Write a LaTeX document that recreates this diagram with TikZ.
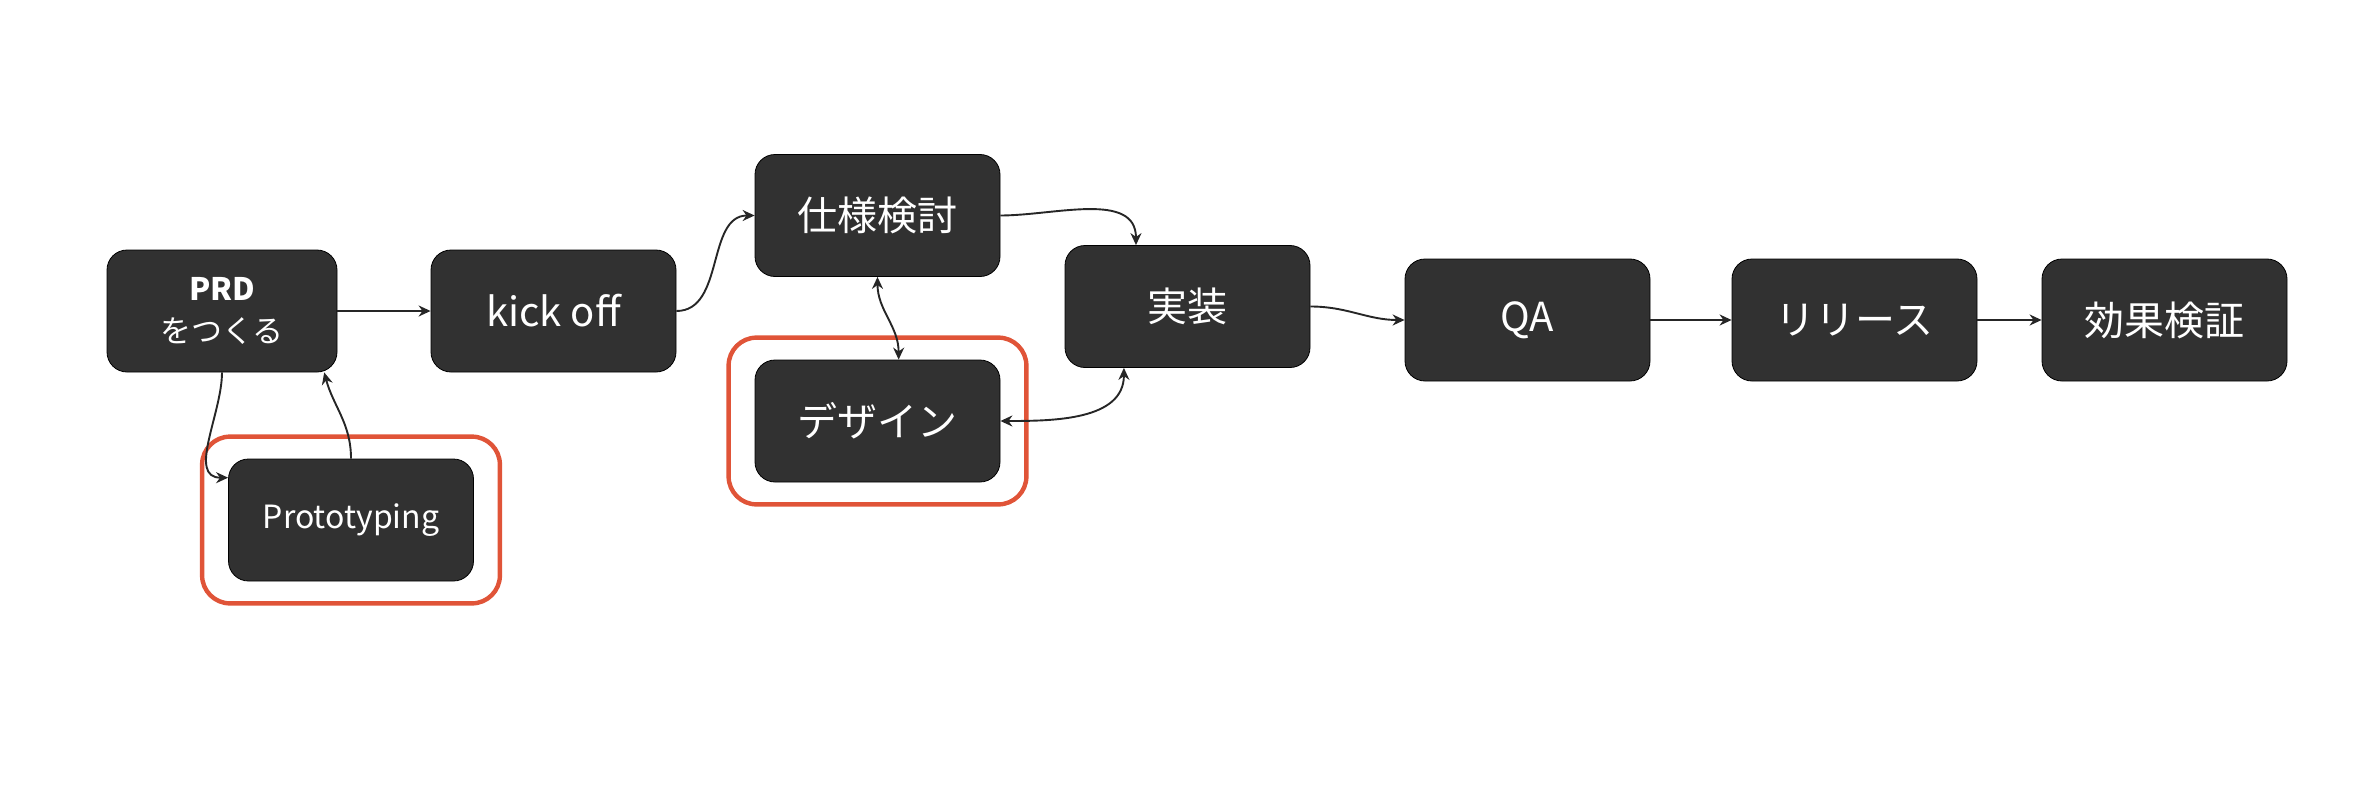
\documentclass[tikz,border=0pt]{standalone}
\usepackage{fontspec}
\setmainfont{Noto Sans CJK JP}
\usetikzlibrary{arrows.meta,fit}
\definecolor{boxgray}{HTML}{313131}
\definecolor{redframe}{HTML}{E05438}

\begin{document}
\begin{tikzpicture}[x=0.5pt,y=0.5pt, >={Stealth[length=6pt,width=5.5pt]},
	task/.style={rectangle, rounded corners=10pt, fill=boxgray, draw=black, line width=0.4pt,
	text=white, minimum width=122.5pt, minimum height=61pt, align=center, font=\fontsize{20}{24}\selectfont},
	hilite/.style={rectangle, draw=redframe, line width=2.2pt, rounded corners=14pt, inner xsep=13pt, inner ysep=11pt},
	arr/.style={line width=0.95pt, draw=black!85}]
\useasboundingbox (0,0) rectangle (2372,784);
\node [task, minimum width=115pt, font=\fontsize{15.5}{21}\selectfont] (prd) at (222,473) {\textbf{PRD}\\をつくる};
\node [task] (kick) at (553.5,473) {kick off};
\node [task] (spec) at (877.5,568.5) {仕様検討};
\node [task] (des) at (877.5,363) {デザイン};
\node [task, font=\fontsize{16}{20}\selectfont] (proto) at (351,264) {Prototyping};
\node [task] (impl) at (1187.5,477.5) {実装};
\node [task] (qa) at (1527.5,464) {QA};
\node [task] (rel) at (1854.5,464) {リリース};
\node [task] (eff) at (2164.5,464) {効果検証};
% red frames
\node [hilite, fit=(proto)] {};
\node [hilite, fit=(des)] {};
\draw[arr, ->] (prd) -- (kick);
\draw[arr, ->] (kick.east) to[out=0, in=180] (spec.west);
\draw[arr, ->] (spec.east) to[out=0, in=90] (impl.130);
\draw[arr, ->] (impl.east) to[out=0, in=180] (qa.west);
\draw[arr, ->] (qa) -- (rel);
\draw[arr, ->] (rel) -- (eff);
\draw[arr, <->] (spec.south) to[out=-90, in=90] (des.71);
\draw[arr, <->] (des.east) to[out=0, in=-90] (impl.224);
\draw[arr, ->] (prd.south) to[out=-90, in=180] (proto.161);
\draw[arr, ->] (proto.north) to[out=90, in=-75] (prd.-31);
\end{tikzpicture}
\end{document}
